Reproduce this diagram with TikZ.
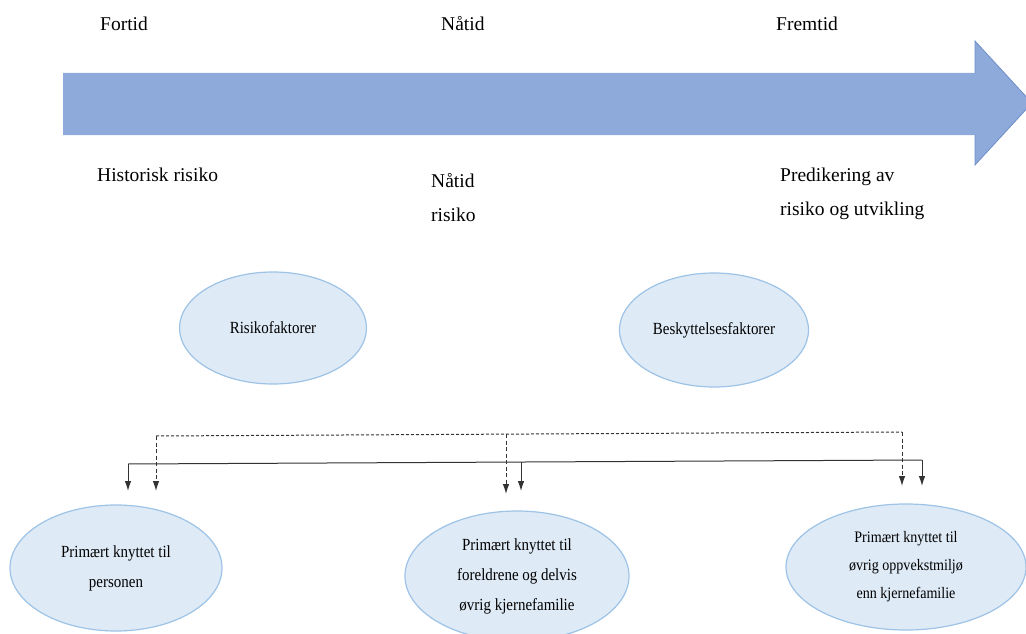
\documentclass[tikz,border=0pt]{standalone}
\usepackage{fontspec}
\setmainfont{Liberation Serif}
\newfontfamily\ovalfont{Liberation Serif}[FakeStretch=0.88]
\usetikzlibrary{shapes.geometric,arrows.meta}
\definecolor{arrowfill}{HTML}{8EAADB}
\definecolor{arrowedge}{HTML}{6F8FC9}
\definecolor{ovalfill}{HTML}{DEEAF6}
\definecolor{ovaledge}{HTML}{9DC3E6}
\definecolor{linkgray}{HTML}{333333}
\tikzset{
  label/.style={font=\fontsize{19.5}{34}\selectfont, inner sep=0pt, align=left},
  oval/.style={ellipse, draw=ovaledge, fill=ovalfill, line width=1.2pt,
    font=\ovalfont\fontsize{17}{30}\selectfont, align=center, inner sep=0pt},
  bus/.style={draw=linkgray, line width=1pt, -{Latex[length=10pt,width=6.5pt]}},
  dashbus/.style={bus, dash pattern=on 4pt off 2.5pt}
}
\begin{document}
\begin{tikzpicture}[x=1pt,y=-1pt]
\useasboundingbox (0,0) rectangle (1026,634);

% time arrow
\fill[arrowfill] (63,73) -- (975,73) -- (975,41) -- (1032,103) -- (975,165) -- (975,135) -- (63,135) -- cycle;
\draw[arrowedge, line width=0.8pt] (975,73) -- (975,41) -- (1032,103) -- (975,165) -- (975,135);

% time labels
\node[label, anchor=base west] (past) at (100,31) {Fortid};
\node[label, anchor=base west] (now) at (441,31) {Nåtid};
\node[label, anchor=base west] (future) at (776,31) {Fremtid};

\node[label, anchor=base west] (hist) at (97,181) {Historisk risiko};
\node[label, anchor=north west] (nowrisk) at (431,173) {Nåtid\\risiko};
\node[label, anchor=north west] (pred) at (780,168) {Predikering av\\risiko og utvikling};

% factor ovals
\node[oval, minimum width=187pt, minimum height=112pt] (risk) at (273,328) {Risikofaktorer};
\node[oval, minimum width=189pt, minimum height=114pt] (prot) at (714,330) {Beskyttelsesfaktorer};

% target ovals
\node[oval, minimum width=212pt, minimum height=126pt] (person) at (116,568) {Primært knyttet til\\personen};
\node[oval, minimum width=224pt, minimum height=130pt] (family) at (517,576) {Primært knyttet til\\foreldrene og delvis\\øvrig kjernefamilie};
\node[oval, minimum width=240pt, minimum height=126pt, font=\ovalfont\fontsize{16}{28}\selectfont] (environ) at (906,567) {Primært knyttet til\\øvrig oppvekstmiljø\\enn kjernefamilie};

% solid distribution line
\coordinate (sL) at (128,464);
\coordinate (sM) at (521,462);
\coordinate (sR) at (922,460);
\coordinate (sLe) at (128,491);
\coordinate (sMe) at (521,491);
\coordinate (sRe) at (922,486);
\draw[draw=linkgray, line width=1pt] (sL) -- (sR);
\draw[bus] (sL) -- (sLe);
\draw[bus] (sM) -- (sMe);
\draw[bus] (sR) -- (sRe);

% dashed distribution line
\coordinate (dL) at (156,436);
\coordinate (dM) at (506,434);
\coordinate (dR) at (902,432);
\coordinate (dLe) at (156,491);
\coordinate (dMe) at (506,494);
\coordinate (dRe) at (902,486);
\draw[draw=linkgray, line width=1pt, dash pattern=on 3pt off 2pt] (dL) -- (dR);
\draw[dashbus] (dL) -- (dLe);
\draw[dashbus] (dM) -- (dMe);
\draw[dashbus] (dR) -- (dRe);
\end{tikzpicture}
\end{document}
